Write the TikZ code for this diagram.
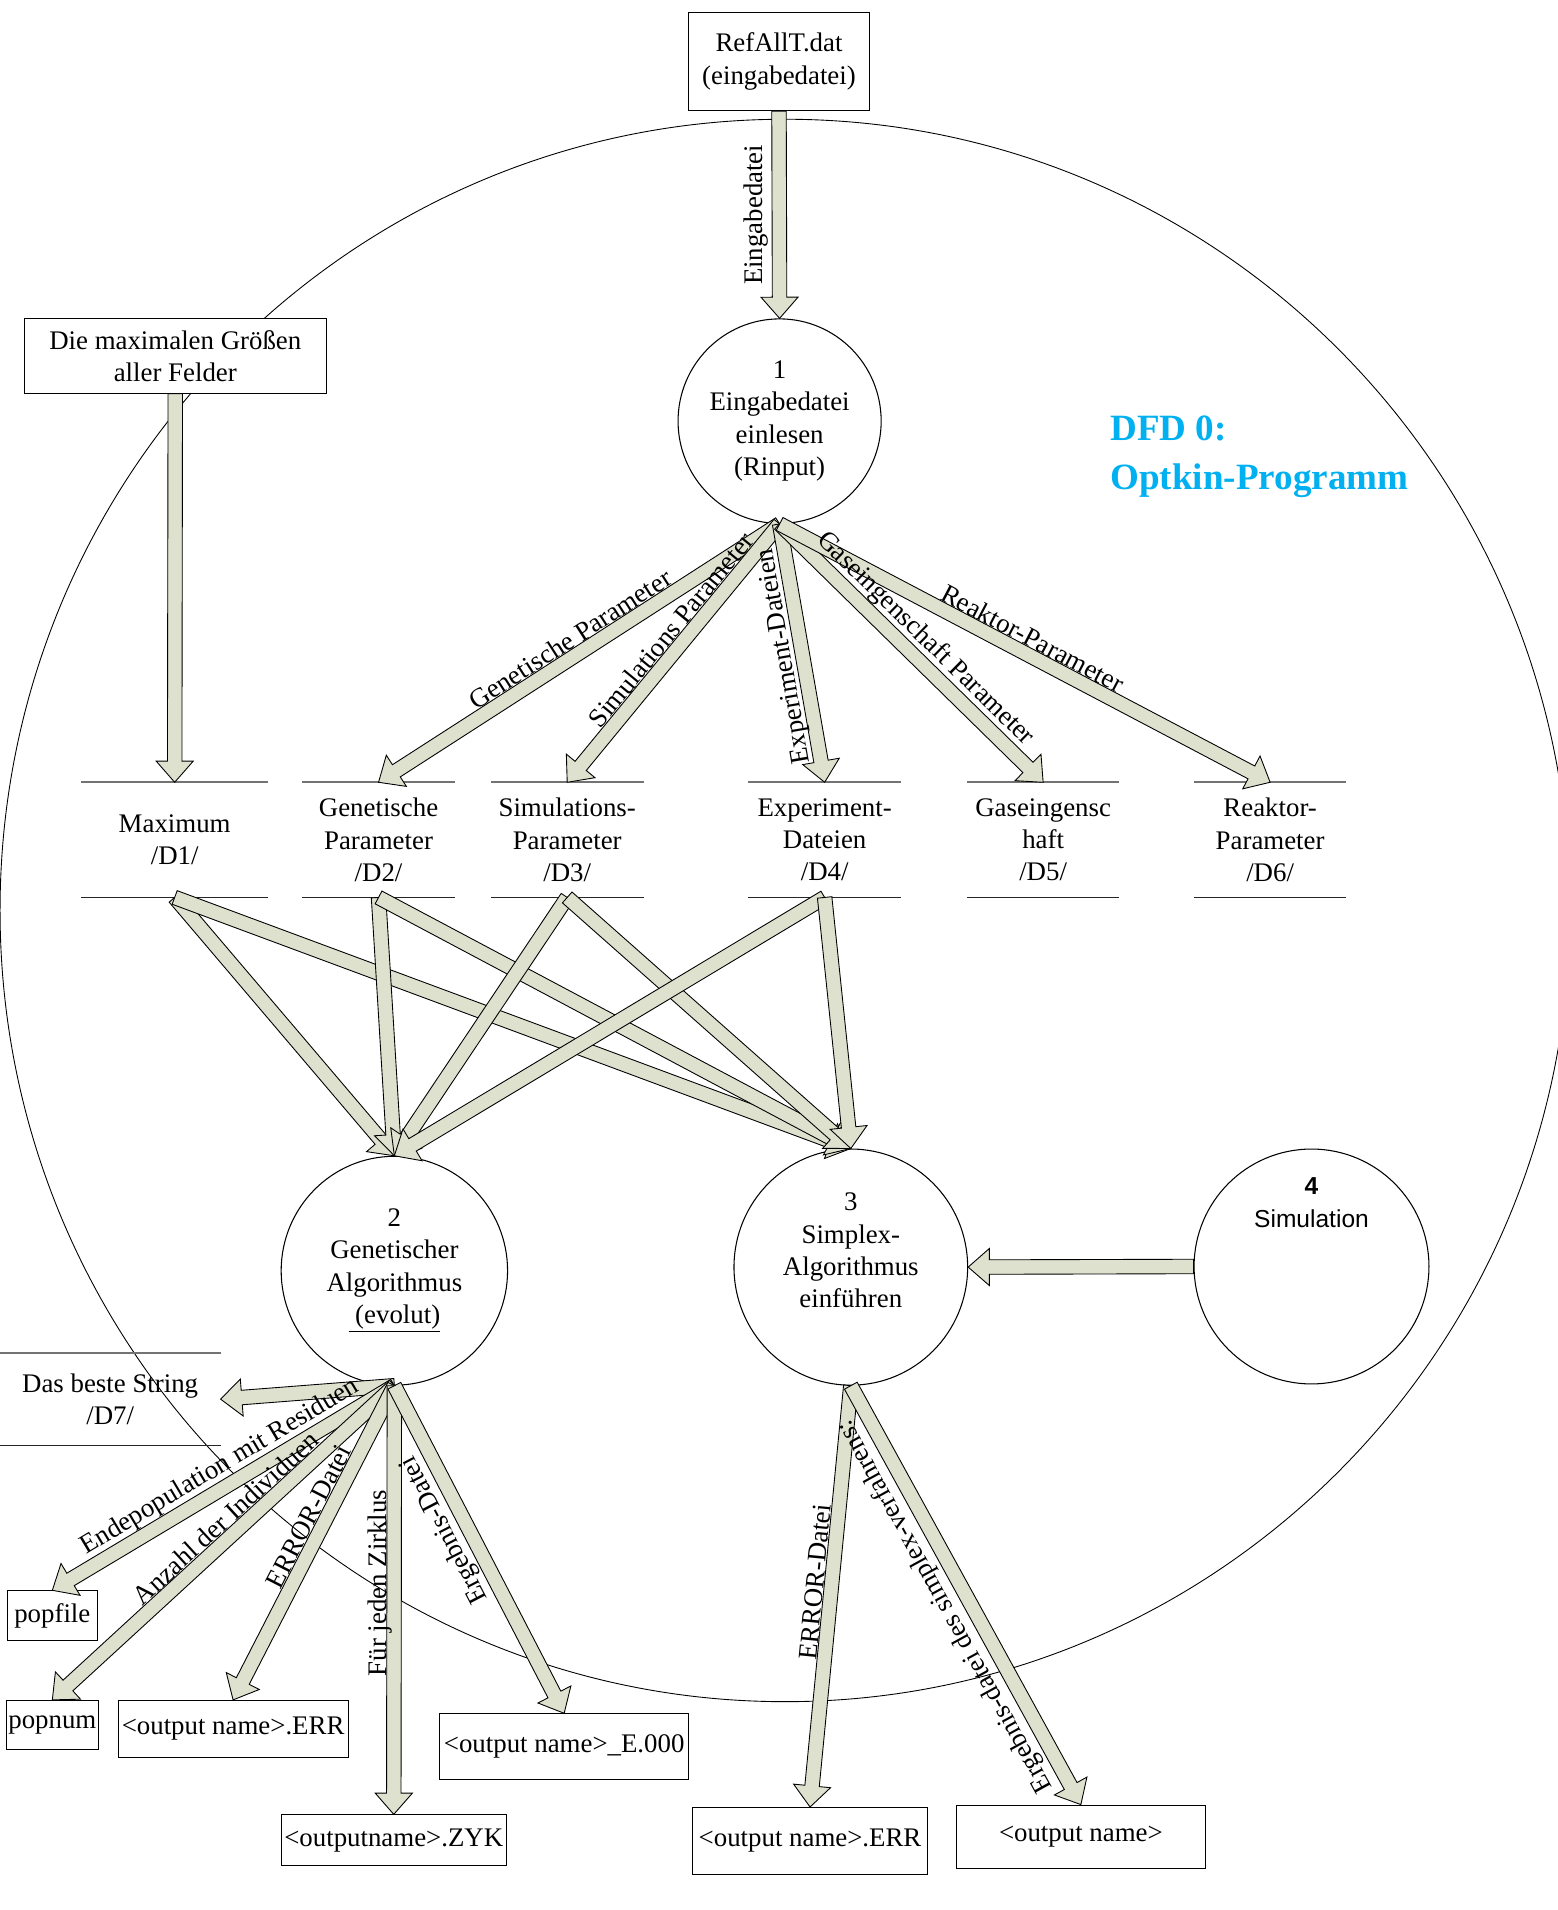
\documentclass[tikz,border=0pt]{standalone}
\usepackage{fontspec}
\setmainfont{Liberation Serif}
\newfontfamily\simfont{Liberation Sans}
\usetikzlibrary{positioning}
\usetikzlibrary{calc}
\usetikzlibrary{shapes.geometric}
\definecolor{flowfill}{RGB}{221,225,206}
\definecolor{dfdblue}{RGB}{0,176,240}
\newcommand{\dfdfont}{\fontsize{15.2}{18.3}\selectfont}
\newcommand{\flowhw}{4.1pt}% half width of the shaft
\newcommand{\flowhh}{10.5pt}% half width of the head
\newcommand{\flowhl}{12pt}% length of the head
\newcommand{\flow}[2]{% block arrow from #1 to #2
  \filldraw[flowbody] ($(#1)!\flowhw!90:(#2)$)
    -- ($(#2)!\flowhl!(#1)!\flowhw!90:(#2)$) -- ($(#2)!\flowhl!(#1)!\flowhh!90:(#2)$)
    -- (#2)
    -- ($(#2)!\flowhl!(#1)!\flowhh!-90:(#2)$) -- ($(#2)!\flowhl!(#1)!\flowhw!-90:(#2)$)
    -- ($(#1)!\flowhw!-90:(#2)$) -- cycle;}
\tikzset{box/.style={ % files outside the system
			draw,
			fill=white,
			line width=0.6pt,
			align=center,
			inner sep=0pt},
	proc/.style={ellipse, draw, line width=0.6pt, inner sep=0pt, align=center},
	store/.style={inner sep=0pt, align=center},
	topline/.style={draw=black!55, line width=1.2pt},
	botline/.style={draw=black!85, line width=0.7pt},
	flowbody/.style={fill=flowfill, draw=black, line width=0.5pt, line join=miter},
	flowlabel/.style={inner sep=1pt, sloped},
	context/.style={draw, line width=0.5pt}}

\begin{document}
\begin{tikzpicture}[x=0.6892pt, y=-0.6892pt, every node/.style={font=\dfdfont}]
			\useasboundingbox (0,0) rectangle (1280,1569.2);
			\draw[context] (645,748) ellipse [x radius=444.5pt, y radius=448pt];
			
			\node[box, minimum width=102pt, minimum height=55.8pt] (ref) at (640,50.5) {RefAllT.dat\\(eingabedatei)};
			\node[box, minimum width=170.9pt, minimum height=42pt] (maxf) at (144,292.5) {Die maximalen Größen\\aller Felder};
			\node[proc, minimum width=115pt, minimum height=115.8pt] (p1) at (640.5,346) {1\\Eingabedatei\\einlesen\\(Rinput)};
			\node[proc, minimum width=128.2pt, minimum height=129.6pt] (p2) at (324,1044) {2\\Genetischer\\Algorithmus\\\underline{~(evolut)}};
			\node[proc, minimum width=132.3pt, minimum height=133.7pt] (p3) at (699,1041) {};
			\node[align=center] (p3t) at (699,1027.5) {3\\Simplex-\\Algorithmus\\einführen};
			\node[proc, minimum width=133pt, minimum height=133pt] (p4) at (1077.5,1040.5) {};
			\node[align=center, font=\simfont\fontsize{13.9}{18.3}\selectfont] (p4t) at (1077.5,988) {\textbf{4}\\Simulation};
			\node[anchor=west, align=left, inner sep=0pt, text=dfdblue, font=\fontsize{21}{27.6}\selectfont\bfseries] (title) at (912,375) {DFD 0:\\Optkin-Programm};
			
			% data stores
			\node[store, minimum width=105.4pt, minimum height=64.8pt] (d1) at (143.5,690) {Maximum\\/D1/};
			\node[store, minimum width=86pt, minimum height=64.8pt] (d2) at (311,690) {Genetische\\Parameter\\/D2/};
			\node[store, minimum width=86pt, minimum height=64.8pt] (d3) at (466,690) {Simulations-\\Parameter\\/D3/};
			\node[store, minimum width=86pt, minimum height=64.8pt] (d4) at (677.5,690) {Experiment-\\Dateien\\/D4/};
			\node[store, minimum width=86pt, minimum height=64.8pt] (d5) at (857,690) {Gaseingensc\\haft\\/D5/};
			\node[store, minimum width=86pt, minimum height=64.8pt] (d6) at (1043.5,690) {Reaktor-\\Parameter\\/D6/};
			\node[store, minimum width=124.7pt, minimum height=51.7pt] (d7) at (90.5,1149.5) {Das beste String\\/D7/};
			\foreach \d in {d1,d2,d3,d4,d5,d6,d7} {
				\draw[topline] (\d.north west) -- (\d.north east);
				\draw[botline] (\d.south west) -- (\d.south east);
			}
			
			% output files
			\node[box, minimum width=51pt, minimum height=28.3pt] (popfile) at (43,1327.5) {popfile};
			\node[box, minimum width=52.4pt, minimum height=27.6pt] (popnum) at (43,1417) {popnum};
			\node[box, minimum width=130.2pt, minimum height=32.4pt] (errga) at (191.5,1420.5) {<output name>.ERR};
			\node[box, minimum width=127.5pt, minimum height=28.9pt] (zyk) at (323.5,1512) {<outputname>.ZYK};
			\node[box, minimum width=141.2pt, minimum height=37.2pt] (eres) at (463.5,1435) {<output name>\_E.000};
			\node[box, minimum width=133pt, minimum height=37.9pt] (errsx) at (665.5,1512.5) {<output name>.ERR};
			\node[box, minimum width=140.6pt, minimum height=35.8pt] (outsx) at (888,1509) {<output name>};
			
			% flows
			\flow{ref.south}{p1.north}
			\flow{maxf.south}{d1.north}
			\foreach \d in {d2,d3,d4,d5,d6} {\flow{p1.south}{\d.north}}
			\foreach \d in {d1,d2,d3,d4} {
				\flow{\d.south}{p2.north}
				\flow{\d.south}{p3.north}
			}
			\flow{p4.west}{p3.east}
			\flow{p2.south}{d7.east}
			\foreach \o in {popfile,popnum,errga,zyk,eres} {\flow{p2.south}{\o.north}}
			\flow{p3.south}{errsx.north}
			\flow{p3.south}{outsx.north}
			
			% flow labels
			\path (p1.north) -- (ref.south) node[flowlabel, allow upside down, midway, above=5pt] (leing) {Eingabedatei};
			\path (p1.south) -- (d2.north) node[flowlabel, midway, above=3pt] (lgen) {Genetische Parameter};
			\path (p1.south) -- (d3.north) node[flowlabel, pos=0.45, above=3pt] (lsim) {Simulations Parameter};
			\path (d4.north) -- (p1.south) node[flowlabel, allow upside down, midway, above=2pt] (lexp) {Experiment-Dateien};
			\path (p1.south) -- (d5.north) node[flowlabel, midway, above=3pt] (lgas) {Gaseingenschaft Parameter};
			\path (p1.south) -- (d6.north) node[flowlabel, midway, above=3pt] (lrea) {Reaktor-Parameter};
			\path (p2.south) -- (popfile.north) node[flowlabel, pos=0.48, above=3pt] (lend) {Endepopulation mit Residuen};
			\path (p2.south) -- (popnum.north) node[flowlabel, pos=0.46, above=3pt] (lanz) {Anzahl der Individuen};
			\path (p2.south) -- (errga.north) node[flowlabel, pos=0.44, above=3pt] (lerrga) {ERROR-Datei};
			\path (zyk.north) -- (p2.south) node[flowlabel, allow upside down, pos=0.54, above=0pt] (lzyk) {Für jeden Zirklus};
			\path (eres.north) -- (p2.south) node[flowlabel, allow upside down, pos=0.59, above=4pt] (lres) {Ergebnis-Datei};
			\path (errsx.north) -- (p3.south) node[flowlabel, allow upside down, pos=0.53, above=3pt] (lerrsx) {ERROR-Datei};
			\path (outsx.north) -- (p3.south) node[flowlabel, allow upside down, midway, above=5pt] (loutsx) {Ergebnis-datei des simplex-verfahrens:};
		\end{tikzpicture}
\end{document}
